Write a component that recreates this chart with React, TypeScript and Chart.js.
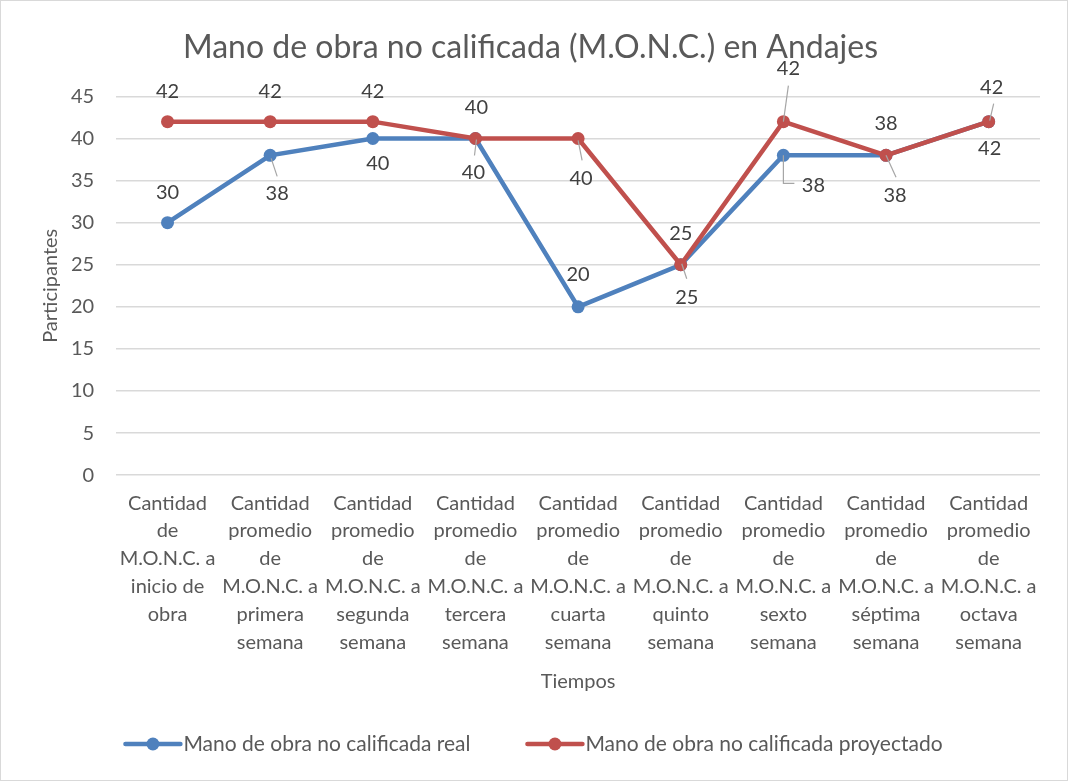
import React, { useEffect, useRef } from "react";
import { Chart, registerables } from "chart.js";

Chart.register(...registerables);

const categories: string[][] = [
  ["Cantidad", "de", "M.O.N.C. a", "inicio de", "obra"],
  ["Cantidad", "promedio", "de", "M.O.N.C. a", "primera", "semana"],
  ["Cantidad", "promedio", "de", "M.O.N.C. a", "segunda", "semana"],
  ["Cantidad", "promedio", "de", "M.O.N.C. a", "tercera", "semana"],
  ["Cantidad", "promedio", "de", "M.O.N.C. a", "cuarta", "semana"],
  ["Cantidad", "promedio", "de", "M.O.N.C. a", "quinto", "semana"],
  ["Cantidad", "promedio", "de", "M.O.N.C. a", "sexto", "semana"],
  ["Cantidad", "promedio", "de", "M.O.N.C. a", "séptima", "semana"],
  ["Cantidad", "promedio", "de", "M.O.N.C. a", "octava", "semana"],
];

const realValues: number[] = [30, 38, 40, 40, 20, 25, 38, 38, 42];
const projectedValues: number[] = [42, 42, 42, 40, 40, 25, 42, 38, 42];

const seriesNames: string[] = [
  "Mano de obra no calificada real",
  "Mano de obra no calificada proyectado",
];
const titleText = "Mano de obra no calificada (M.O.N.C.) en Andajes";
const yTitle = "Participantes";
const xTitle = "Tiempos";

const BLUE = "#4F81BD";
const RED = "#C0504D";
const TEXT = "#595959";
const LABEL = "#404040";
const GRID = "#D9D9D9";
const FONT = "Lato";

type Place = { dx: number; dy: number; leader?: number[][] };

// label placement (presentation only)
const realPlace: Place[] = [
  { dx: 0, dy: -30 },
  { dx: 7, dy: 38, leader: [[1, 3], [7, 21]] },
  { dx: 5, dy: 25 },
  { dx: -2, dy: 34, leader: [[1, 1], [-1, 17]] },
  { dx: 0, dy: -32 },
  { dx: 0, dy: -31 },
  { dx: 30, dy: 30, leader: [[0, 0], [0, 28], [11, 28]] },
  { dx: 9, dy: 40, leader: [[0, 0], [10, 22]] },
  { dx: 1, dy: 27 },
];
const projPlace: Place[] = [
  { dx: 0, dy: -30 },
  { dx: 0, dy: -30 },
  { dx: 0, dy: -30 },
  { dx: 1, dy: -31 },
  { dx: 3, dy: 40, leader: [[0, 2], [4, 22]] },
  { dx: 6, dy: 33, leader: [[1, -1], [6, 14]] },
  { dx: 5, dy: -53, leader: [[0, 0], [5, -36]] },
  { dx: 0, dy: -32 },
  { dx: 3, dy: -34, leader: [[1, -1], [5, -18]] },
];

const labelPlugin = {
  id: "dataLabels",
  afterDatasetsDraw(chart: any) {
    const ctx = chart.ctx;
    const places = [realPlace, projPlace];
    ctx.save();
    ctx.font = `20px ${FONT}`;
    ctx.textAlign = "center";
    ctx.textBaseline = "middle";
    chart.data.datasets.forEach((ds: any, di: number) => {
      const meta = chart.getDatasetMeta(di);
      meta.data.forEach((pt: any, i: number) => {
        const p = places[di][i];
        if (p.leader) {
          ctx.strokeStyle = "#A6A6A6";
          ctx.lineWidth = 1.2;
          ctx.beginPath();
          p.leader.forEach((q, k) => {
            if (k === 0) ctx.moveTo(pt.x + q[0], pt.y + q[1]);
            else ctx.lineTo(pt.x + q[0], pt.y + q[1]);
          });
          ctx.stroke();
        }
        ctx.fillStyle = LABEL;
        ctx.fillText(String(ds.data[i]), pt.x + p.dx, pt.y + p.dy);
      });
    });
    ctx.restore();
  },
};

const legendPlugin = {
  id: "customLegend",
  afterDraw(chart: any) {
    const ctx = chart.ctx;
    const colors = [BLUE, RED];
    ctx.save();
    ctx.font = `21px ${FONT}`;
    ctx.textBaseline = "middle";
    ctx.textAlign = "left";
    const sample = 55;
    const gapText = 3;
    const gapItem = 57;
    const widths = seriesNames.map((n) => ctx.measureText(n).width);
    const total =
      widths.reduce((a, b) => a + b, 0) + 2 * (sample + gapText) + gapItem;
    let x = chart.width / 2 - total / 2;
    const y = 743;
    seriesNames.forEach((n, i) => {
      ctx.strokeStyle = colors[i];
      ctx.lineWidth = 4.5;
      ctx.lineCap = "round";
      ctx.beginPath();
      ctx.moveTo(x, y);
      ctx.lineTo(x + sample, y);
      ctx.stroke();
      ctx.fillStyle = colors[i];
      ctx.beginPath();
      ctx.arc(x + sample / 2, y, 6.5, 0, Math.PI * 2);
      ctx.fill();
      ctx.fillStyle = TEXT;
      ctx.fillText(n, x + sample + gapText, y);
      x += sample + gapText + widths[i] + gapItem;
    });
    ctx.restore();
  },
};

export default function App() {
  const ref = useRef<HTMLCanvasElement | null>(null);
  useEffect(() => {
    if (!ref.current) return;
    Chart.defaults.font.family = FONT;
    const chart = new Chart(ref.current, {
      type: "line",
      data: {
        labels: categories as any,
        datasets: [
          {
            label: seriesNames[0],
            data: realValues,
            borderColor: BLUE,
            backgroundColor: BLUE,
            borderWidth: 4.5,
            pointRadius: 6.5,
            pointBorderWidth: 0,
            pointBackgroundColor: BLUE,
            tension: 0,
            order: 1,
          },
          {
            label: seriesNames[1],
            data: projectedValues,
            borderColor: RED,
            backgroundColor: RED,
            borderWidth: 4.5,
            pointRadius: 6.5,
            pointBorderWidth: 0,
            pointBackgroundColor: RED,
            tension: 0,
            order: 0,
          },
        ],
      },
      options: {
        animation: false,
        responsive: true,
        maintainAspectRatio: false,
        layout: { padding: { left: 20, right: 27, top: 0, bottom: 86 } },
        plugins: {
          legend: { display: false },
          tooltip: { enabled: false },
          title: {
            display: true,
            text: titleText,
            color: TEXT,
            font: { size: 32, weight: "normal", family: FONT },
            padding: { top: 27, bottom: 30 },
          },
        },
        scales: {
          x: {
            offset: true,
            afterFit: (scale: any) => {
              scale.paddingLeft = 0;
              scale.paddingRight = 0;
            },
            grid: { display: false, drawTicks: false },
            border: { display: false },
            ticks: {
              color: TEXT,
              font: { size: 20, family: FONT, lineHeight: 1.39 },
              maxRotation: 0,
              minRotation: 0,
              autoSkip: false,
              padding: 14,
            },
            title: {
              display: true,
              text: xTitle,
              color: TEXT,
              font: { size: 20, family: FONT },
              padding: { top: 0, bottom: 0 },
            },
          },
          y: {
            min: 0,
            max: 45,
            afterFit: (scale: any) => {
              scale.width = scale.width - 24;
            },
            ticks: {
              stepSize: 5,
              color: TEXT,
              font: { size: 20, family: FONT },
              padding: 22,
            },
            grid: { color: GRID, lineWidth: 1.5, drawTicks: false },
            border: { display: false },
            title: {
              display: true,
              text: yTitle,
              color: TEXT,
              font: { size: 20, family: FONT },
              padding: { top: 18, bottom: 10 },
            },
          },
        },
      },
      plugins: [labelPlugin, legendPlugin],
    });
    return () => chart.destroy();
  }, []);

  return (
    <div
      style={{
        position: "fixed",
        left: 0,
        top: 0,
        width: 1068,
        height: 781,
        boxSizing: "border-box",
        border: "1px solid #D9D9D9",
        background: "#fff",
      }}
    >
      <canvas ref={ref} />
    </div>
  );
}
